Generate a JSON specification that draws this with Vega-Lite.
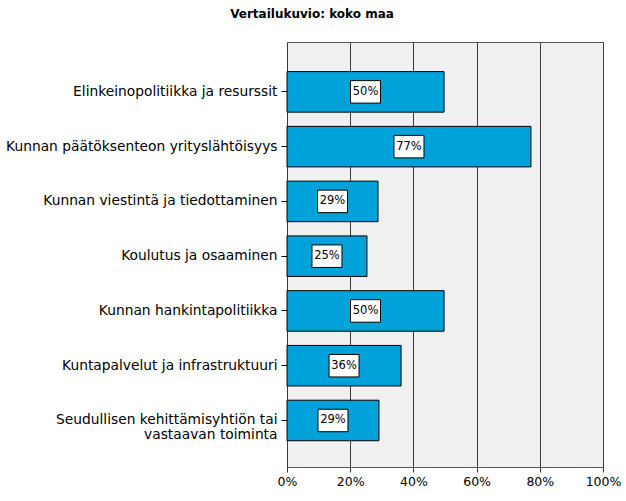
{
  "$schema": "https://vega.github.io/schema/vega-lite/v6.json",
  "autosize": "none",
  "padding": {"left": 287, "top": 42, "right": 23, "bottom": 34},
  "width": 316,
  "height": 425,
  "background": "white",
  "title": {
    "text": "Vertailukuvio: koko maa",
    "font": "DejaVu Sans",
    "fontSize": 12,
    "fontWeight": "bold",
    "color": "black",
    "anchor": "middle",
    "frame": "group",
    "dx": -133,
    "offset": 21
  },
  "config": {
    "view": {"fill": "#f0f0f0", "stroke": "#555555", "strokeWidth": 1},
    "font": "DejaVu Sans"
  },
  "data": {
    "values": [
      {"aihe": "Elinkeinopolitiikka ja resurssit", "osuus": 0.497},
      {"aihe": "Kunnan päätöksenteon yrityslähtöisyys", "osuus": 0.772},
      {"aihe": "Kunnan viestintä ja tiedottaminen", "osuus": 0.288},
      {"aihe": "Koulutus ja osaaminen", "osuus": 0.253},
      {"aihe": "Kunnan hankintapolitiikka", "osuus": 0.497},
      {"aihe": "Kuntapalvelut ja infrastruktuuri", "osuus": 0.361},
      {"aihe": "Seudullisen kehittämisyhtiön tai vastaavan toiminta", "osuus": 0.291}
    ]
  },
  "encoding": {
    "y": {
      "field": "aihe",
      "type": "nominal",
      "sort": null,
      "title": null,
      "scale": {"paddingInner": 0.26, "paddingOuter": 0.51, "align": 0.53},
      "axis": {
        "domain": false,
        "ticks": true,
        "tickSize": 6,
        "tickColor": "black",
        "labelColor": "black",
        "labelFontSize": 13.8,
        "labelFont": "DejaVu Sans",
        "labelPadding": 4,
        "labelLimit": 400,
        "labelLineHeight": 15,
        "labelExpr": "datum.value == 'Seudullisen kehittämisyhtiön tai vastaavan toiminta' ? ['Seudullisen kehittämisyhtiön tai', 'vastaavan toiminta'] : datum.label"
      }
    }
  },
  "layer": [
    {
      "mark": {"type": "bar", "fill": "#00a3d9", "stroke": "black", "strokeWidth": 1},
      "encoding": {
        "x": {
          "field": "osuus",
          "type": "quantitative",
          "title": null,
          "scale": {"domain": [0, 1], "nice": false},
          "axis": {
            "format": ".0%",
            "values": [0, 0.2, 0.4, 0.6, 0.8, 1],
            "grid": true,
            "gridColor": "#3a3a3a",
            "gridOpacity": 1,
            "domain": false,
            "tickColor": "#333333",
            "tickSize": 5,
            "labelColor": "black",
            "labelFontSize": 12.5,
            "labelFont": "DejaVu Sans",
            "labelPadding": 3,
            "labelFlush": false
          }
        }
      }
    },
    {
      "transform": [{"calculate": "datum.osuus / 2", "as": "keski"}],
      "mark": {
        "type": "point",
        "shape": "M-1,-0.75L1,-0.75L1,0.75L-1,0.75Z",
        "size": 900,
        "filled": true,
        "fill": "white",
        "stroke": "black",
        "strokeWidth": 1,
        "opacity": 1
      },
      "encoding": {"x": {"field": "keski", "type": "quantitative"}}
    },
    {
      "transform": [{"calculate": "datum.osuus / 2", "as": "keski"}],
      "mark": {"type": "text", "font": "DejaVu Sans", "fontSize": 11.5, "color": "black", "align": "center", "baseline": "middle"},
      "encoding": {
        "x": {"field": "keski", "type": "quantitative"},
        "text": {"field": "osuus", "type": "quantitative", "format": ".0%"}
      }
    }
  ]
}
